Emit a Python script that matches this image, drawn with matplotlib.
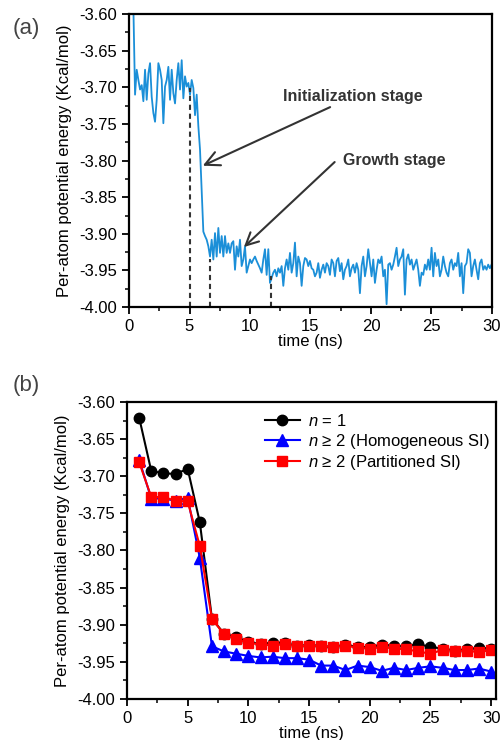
import numpy as np
import matplotlib
matplotlib.use('Agg')
import matplotlib.pyplot as plt
from matplotlib.ticker import MultipleLocator

plt.rcParams['font.family'] = ['Liberation Sans', 'DejaVu Sans']
plt.rcParams['mathtext.fontset'] = 'custom'
plt.rcParams['mathtext.it'] = 'Liberation Sans:italic'
plt.rcParams['mathtext.rm'] = 'Liberation Sans'

# ---- panel (a): energy trace, one sample every ~0.138 ns ----
t_start, t_end = 0.36, 29.97
energy_a = [
    # 0.4 - 4.8 ns
    -3.59, -3.710, -3.676, -3.690, -3.703, -3.697, -3.719, -3.676, -3.717, -3.681,
    -3.667, -3.713, -3.735, -3.747, -3.717, -3.667, -3.676, -3.690, -3.749, -3.699,
    -3.690, -3.672, -3.717, -3.676, -3.708, -3.722, -3.690, -3.667, -3.703, -3.663,
    -3.715, -3.685, -3.699,
    # 4.9 - 10 ns
    -3.694, -3.710, -3.690, -3.701, -3.738, -3.710, -3.753, -3.785, -3.840, -3.897,
    -3.903, -3.908, -3.917, -3.931, -3.908, -3.935, -3.899, -3.931, -3.892, -3.926,
    -3.903, -3.931, -3.903, -3.926, -3.913, -3.926, -3.913, -3.910, -3.949, -3.917,
    -3.931, -3.908, -3.944, -3.935, -3.917, -3.953, -3.944, -3.935,
    # 10 - 30 ns
    -3.940, -3.935, -3.931, -3.937, -3.942, -3.947, -3.953, -3.935, -3.921, -3.956,
    -3.921, -3.967, -3.960, -3.953, -3.949, -3.958, -3.947, -3.953, -3.944, -3.971,
    -3.947, -3.935, -3.949, -3.926, -3.953, -3.940, -3.912, -3.958, -3.931, -3.940,
    -3.971, -3.944, -3.933, -3.935, -3.944, -3.937, -3.947, -3.949, -3.958, -3.953,
    -3.940, -3.960, -3.949, -3.942, -3.953, -3.940, -3.944, -3.956, -3.935, -3.940,
    -3.958, -3.937, -3.933, -3.951, -3.940, -3.962, -3.949, -3.944, -3.935, -3.958,
    -3.947, -3.942, -3.953, -3.940, -3.949, -3.981, -3.944, -3.931, -3.958, -3.944,
    -3.921, -3.940, -3.958, -3.935, -3.967, -3.949, -3.935, -3.940, -3.931, -3.958,
    -3.949, -3.996, -3.942, -3.940, -3.949, -3.942, -3.931, -3.919, -3.944, -3.935,
    -3.931, -3.921, -3.983, -3.935, -3.928, -3.942, -3.935, -3.949, -3.942, -3.935,
    -3.949, -3.971, -3.953, -3.956, -3.942, -3.949, -3.935, -3.949, -3.919, -3.958,
    -3.926, -3.944, -3.935, -3.958, -3.949, -3.931, -3.944, -3.953, -3.958, -3.940,
    -3.935, -3.949, -3.940, -3.944, -3.926, -3.958, -3.940, -3.981, -3.944, -3.940,
    -3.921, -3.926, -3.958, -3.944, -3.935, -3.949, -3.962, -3.940, -3.935, -3.949,
    -3.944, -3.949, -3.942, -3.947, -3.942,
]
time_a = np.linspace(t_start, t_end, len(energy_a))

# stage markers (time, energy at top of dashed line)
mark_t = [5.0, 6.7, 11.7]
mark_e = [-3.701, -3.935, -3.958]

# ---- panel (b) ----
time_b = list(range(1, 31))
e_n1 = [-3.621, -3.693, -3.696, -3.697, -3.690, -3.762, -3.892, -3.912, -3.917, -3.923,
        -3.926, -3.924, -3.924, -3.929, -3.927, -3.929, -3.930, -3.927, -3.930, -3.930,
        -3.927, -3.928, -3.929, -3.926, -3.930, -3.932, -3.935, -3.933, -3.931, -3.932]
e_homo = [-3.678, -3.730, -3.730, -3.733, -3.729, -3.810, -3.929, -3.936, -3.939, -3.942,
          -3.944, -3.943, -3.945, -3.945, -3.947, -3.955, -3.955, -3.961, -3.955, -3.957,
          -3.962, -3.958, -3.961, -3.958, -3.956, -3.958, -3.961, -3.961, -3.959, -3.963]
e_part = [-3.681, -3.728, -3.728, -3.733, -3.734, -3.794, -3.892, -3.913, -3.919, -3.925,
          -3.926, -3.928, -3.926, -3.929, -3.928, -3.929, -3.930, -3.928, -3.931, -3.932,
          -3.930, -3.932, -3.933, -3.936, -3.939, -3.934, -3.935, -3.935, -3.937, -3.934]

fig = plt.figure(figsize=(5.04, 7.40), dpi=100)
ax1 = fig.add_axes([0.256, 0.585, 0.720, 0.396])
ax2 = fig.add_axes([0.252, 0.0554, 0.732, 0.4014])

ylab = 'Per-atom potential energy (Kcal/mol)'

def style(ax, xmax):
    ax.set_xlim(0, xmax)
    ax.set_ylim(-4.0, -3.6)
    ax.xaxis.set_major_locator(MultipleLocator(5))
    ax.xaxis.set_minor_locator(MultipleLocator(2.5))
    ax.yaxis.set_major_locator(MultipleLocator(0.05))
    ax.yaxis.set_minor_locator(MultipleLocator(0.025))
    ax.yaxis.set_major_formatter(plt.FormatStrFormatter('%.2f'))
    ax.tick_params(which='major', direction='out', length=5, width=1.3, labelsize=12)
    ax.tick_params(which='minor', direction='out', length=3, width=1.1)
    for s in ax.spines.values():
        s.set_linewidth(1.6)
    ax.set_ylabel(ylab, fontsize=12, labelpad=5)
    ax.set_xlabel('time (ns)', fontsize=12, labelpad=0)

ax1.plot(time_a, energy_a, color='#1b8fd8', lw=1.3)
for tt, ee in zip(mark_t, mark_e):
    ax1.plot([tt, tt], [-4.0, ee], color='#333333', ls=(0, (2.5, 1.8)), lw=1.5)
style(ax1, 30)

arrow = dict(arrowstyle='->,head_length=0.9,head_width=0.45', color='#333333', lw=1.5,
             shrinkA=0, shrinkB=0)
ax1.annotate('Initialization stage', xy=(6.1, -3.807), xytext=(12.7, -3.713),
             fontsize=11.5, fontweight='bold', color='#333333', va='center',
             arrowprops=arrow)
ax1.annotate('', xy=(9.5, -3.918), xytext=(17.0, -3.802), arrowprops=arrow)
ax1.text(17.7, -3.800, 'Growth stage', fontsize=11.5, fontweight='bold',
         color='#333333', va='center')

ax2.plot(time_b, e_n1, color='black', marker='o', ms=7.5, lw=1.5, label=r'$n$ = 1')
ax2.plot(time_b, e_homo, color='blue', marker='^', ms=8, lw=1.5,
         label=r'$n$ ≥ 2 (Homogeneous SI)')
ax2.plot(time_b, e_part, color='red', marker='s', ms=6.5, lw=1.5,
         label=r'$n$ ≥ 2 (Partitioned SI)')
style(ax2, 30.4)
ax2.legend(loc='upper left', bbox_to_anchor=(0.355, 0.985), frameon=False,
           fontsize=12, handlelength=2.1, handletextpad=0.5, labelspacing=0.15,
           borderaxespad=0)

fig.text(0.026, 0.962, '(a)', fontsize=16, color='#444444', va='center')
fig.text(0.026, 0.479, '(b)', fontsize=16, color='#444444', va='center')

fig.savefig('out.png', dpi=100)
